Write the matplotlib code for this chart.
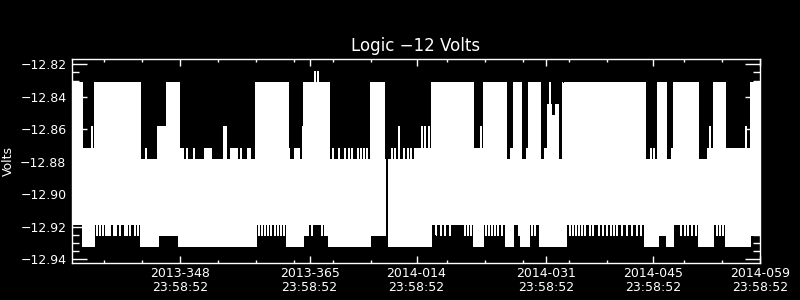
import numpy as np
import matplotlib
matplotlib.use("Agg")
import matplotlib.pyplot as plt
from matplotlib.ticker import FixedLocator, FuncFormatter

# time axis in days since 2013-001 00:00 (2014 days continue past 365)
t_range = [333.86, 424.0]
volt_range = [-12.94265, -12.8169]

# upper edge of the trace: step blocks (start day, volts)
upper_start = [333.86, 335.26, 336.74, 342.89, 345.03, 346.26, 347.91, 357.91, 362.18, 364.06,
               364.23, 367.64, 373.01, 374.84, 378.77, 380.95, 386.40, 387.71, 390.77, 391.30,
               391.64, 392.74, 393.43, 393.69, 395.26, 395.69, 396.14, 396.37, 396.51, 396.66,
               397.19, 397.62, 398.05, 398.18, 398.31, 409.01, 410.54, 411.80, 412.37, 412.71,
               415.95, 417.13, 417.91, 419.44, 422.76]
upper_volts = [-12.8313, -12.8717, -12.8313, -12.8785, -12.8583, -12.8313, -12.8785, -12.8313, -12.8785, -12.8583,
               -12.8313, -12.8785, -12.8313, -12.8785, -12.8717, -12.8313, -12.8717, -12.8313, -12.8785, -12.8717,
               -12.8313, -12.8785, -12.8717, -12.8313, -12.8785, -12.8717, -12.8448, -12.8313, -12.8448, -12.8515,
               -12.8448, -12.8785, -12.8313, -12.8448, -12.8313, -12.8785, -12.8313, -12.8785, -12.8717, -12.8313,
               -12.8785, -12.8717, -12.8313, -12.8717, -12.8313]

# short excursions of the upper edge, grouped by the level they reach
upper_to_12825 = [365.71, 366.11]
upper_to_12852 = [346.43, 361.84, 385.31, 401.02, 404.52, 407.76, 418.98]
upper_to_12858 = [336.52, 346.98, 353.72, 353.98, 376.67, 379.72, 380.08, 380.60, 387.47,
                  400.59, 401.68, 403.86, 407.44, 413.72, 414.11, 417.39, 422.10]
upper_to_12872 = [343.61, 348.13, 348.43, 348.96, 349.83, 351.27, 351.53, 351.80, 352.06,
                  354.68, 354.94, 355.20, 355.50, 355.99, 356.90, 357.16, 362.34, 363.06,
                  363.32, 363.58, 368.03, 368.82, 369.60, 370.13, 370.52, 371.30, 371.70,
                  372.09, 372.48, 375.75, 376.15, 377.33, 377.85, 378.24, 396.77, 409.66, 410.06]
upper_to_12879 = [335.43, 335.72, 336.22, 386.56, 386.82, 387.08, 419.87, 420.53, 421.18]

# lower edge of the trace
lower_start = [333.86, 335.26, 336.74, 342.76, 345.12, 347.74, 358.04, 361.97, 364.14, 364.59,
               367.51, 373.01, 375.23, 380.95, 386.40, 387.71, 390.64, 391.73, 392.64, 393.82,
               395.13, 398.63, 408.88, 410.71, 411.72, 412.71, 415.95, 417.91, 419.44, 422.76]
lower_volts = [-12.9189, -12.9324, -12.9189, -12.9324, -12.9257, -12.9324, -12.9189, -12.9324, -12.9257, -12.9189,
               -12.9324, -12.9257, -12.9324, -12.9189, -12.9324, -12.9189, -12.9324, -12.9189, -12.9324, -12.9189,
               -12.9324, -12.9189, -12.9324, -12.9257, -12.9324, -12.9189, -12.9324, -12.9189, -12.9324, -12.9257]

lower_to_12906 = [365.71, 366.11]
lower_to_12919 = [346.47, 373.66, 373.92, 374.45]
lower_to_12926 = [337.13, 337.53, 337.92, 338.31, 338.57, 338.84, 339.36, 339.56, 340.14, 340.80,
                  341.06, 341.45, 342.11, 342.50, 358.34, 358.74, 359.13, 359.59, 359.91, 360.44,
                  360.83, 361.22, 361.62, 364.80, 365.24, 366.55, 366.98, 367.28, 381.61, 382.17,
                  382.69, 383.35, 385.31, 385.74, 386.19, 388.06, 388.45, 388.85, 389.24, 389.63,
                  390.16, 392.38, 394.08, 394.48, 396.01, 396.87, 397.75, 399.06, 399.45, 399.84,
                  400.24, 400.63, 401.02, 401.68, 402.07, 402.86, 403.38, 403.90, 404.43, 404.82,
                  405.21, 405.87, 406.52, 407.18, 407.83, 408.35, 413.59, 414.11, 414.51, 415.03,
                  415.55, 418.30, 418.70, 419.09]

# data gap
gap_days = [374.98, 375.26]

# axis ticks
major_days = [347.999, 364.999, 378.999, 395.999, 409.999, 423.999]
major_labels = ['2013-348\n23:58:52', '2013-365\n23:58:52', '2014-014\n23:58:52',
                '2014-031\n23:58:52', '2014-045\n23:58:52', '2014-059\n23:58:52']
minor_days = [337.999, 342.999, 352.999, 357.999, 362.999, 367.999, 372.999, 382.999,
              387.999, 392.999, 398.999, 403.999, 413.999, 418.999]
volt_ticks = [-12.82, -12.84, -12.86, -12.88, -12.90, -12.92, -12.94]

spike_w = 0.13
t = np.arange(t_range[0], t_range[1] + 0.01, 0.01)


def envelope(starts, volts, spikes):
    v = np.asarray(volts)[np.searchsorted(starts, t, side='right') - 1]
    for level, days in spikes:
        for d in days:
            v[np.abs(t - d) < spike_w / 2] = level
    return v


hi = envelope(upper_start, upper_volts,
              [(-12.8246, upper_to_12825), (-12.8515, upper_to_12852), (-12.8583, upper_to_12858),
               (-12.8717, upper_to_12872), (-12.8785, upper_to_12879)])
lo = envelope(lower_start, lower_volts,
              [(-12.9055, lower_to_12906), (-12.9189, lower_to_12919), (-12.9257, lower_to_12926)])
ok = ~((t >= gap_days[0]) & (t < gap_days[1]))

plt.rcParams['font.family'] = ['DejaVu Sans']
fig = plt.figure(figsize=(8, 3), dpi=100, facecolor='black')
ax = fig.add_axes([0.09, 0.1223, 0.86, 0.68])
ax.set_facecolor('black')

ax.fill_between(t, lo, hi, where=ok, step='post', color='white', lw=0, antialiased=False)

ax.set_xlim(t_range)
ax.set_ylim(volt_range)

ax.xaxis.set_major_locator(FixedLocator(major_days))
ax.xaxis.set_minor_locator(FixedLocator(minor_days))
ax.set_xticklabels(major_labels, linespacing=1.1)
ax.yaxis.set_major_locator(FixedLocator(volt_ticks))
ax.yaxis.set_minor_locator(FixedLocator(np.arange(-12.94, -12.815, 0.005)))
ax.yaxis.set_major_formatter(FuncFormatter(lambda v, p: f"{v:.2f}".replace('-', '\u2212')))

for s in ax.spines.values():
    s.set_color('white')
    s.set_linewidth(1.0)
    s.set_zorder(5)

ax.tick_params(which='both', direction='in', colors='white', top=True, right=True, labelsize=9, width=1)
ax.tick_params(axis='x', which='major', length=5, pad=3)
ax.tick_params(axis='x', which='minor', length=2.5)
ax.tick_params(axis='y', which='major', length=10.5, pad=4)
ax.tick_params(axis='y', which='minor', length=5)

ax.text(0.5, 1.065, 'Logic \u221212 Volts', transform=ax.transAxes, ha='center', va='center',
        color='white', fontsize=12)
fig.text(8 / 800, 1 - 161 / 300, 'Volts', rotation=90, ha='center', va='center',
         color='white', fontsize=9)

fig.savefig('out.png', dpi=100, facecolor='black')
